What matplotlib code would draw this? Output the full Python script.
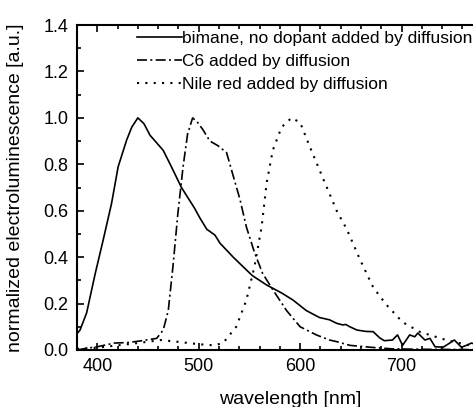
import matplotlib
matplotlib.use("Agg")
import matplotlib.pyplot as plt
from matplotlib.ticker import MultipleLocator

plt.rcParams['font.family'] = ['Liberation Sans', 'DejaVu Sans']

# values
bimane_wl = [380, 383, 389.5, 398, 405.6, 414, 420.6, 429, 434, 440, 446, 452, 459, 465,
             473, 483, 496, 501, 508, 516, 521, 534, 547, 553, 567, 582, 593, 606, 619,
             629, 636, 642, 645, 649, 656, 665, 672, 678.5, 683, 691, 696, 701, 708, 713,
             716, 723, 728, 733, 741, 747.5, 752, 759, 764, 769, 775, 780]
bimane_el = [0.07, 0.086, 0.16, 0.33, 0.47, 0.63, 0.79, 0.905, 0.96, 1.0, 0.975, 0.925,
             0.89, 0.86, 0.79, 0.70, 0.61, 0.57, 0.52, 0.495, 0.46, 0.40, 0.345, 0.32,
             0.28, 0.245, 0.215, 0.17, 0.14, 0.13, 0.115, 0.108, 0.11, 0.10, 0.086, 0.08,
             0.079, 0.052, 0.04, 0.043, 0.065, 0.02, 0.065, 0.057, 0.073, 0.043, 0.05,
             0.014, 0.012, 0.03, 0.043, 0.012, 0.02, 0.03, 0.02, 0.03]

c6_wl = [380, 390, 400, 417, 430, 444, 458.5, 465, 470, 474.6, 479.5, 484.6, 489, 494,
         499, 504, 511, 519, 527.5, 534, 540.6, 547, 555, 563, 573, 586.6, 600, 616, 629,
         636, 649, 669, 690, 720, 760, 800]
c6_el = [0.0, 0.008, 0.014, 0.03, 0.032, 0.04, 0.05, 0.086, 0.17, 0.36, 0.59, 0.79, 0.93,
         1.0, 0.98, 0.95, 0.90, 0.88, 0.85, 0.75, 0.65, 0.53, 0.42, 0.33, 0.26, 0.17,
         0.10, 0.065, 0.043, 0.036, 0.02, 0.012, 0.005, 0.003, 0.002, 0.0]

nile_wl = [380, 400, 420, 440, 463, 480, 500, 515, 524, 537, 547, 555, 562, 567, 573,
           581.7, 591.5, 600, 609.6, 622, 636, 646, 659, 672, 685, 701, 718, 744, 767, 800]
nile_el = [0.005, 0.01, 0.02, 0.03, 0.043, 0.035, 0.025, 0.02, 0.03, 0.10, 0.215, 0.36,
           0.53, 0.72, 0.86, 0.96, 1.0, 0.98, 0.875, 0.745, 0.60, 0.52, 0.39, 0.27, 0.195,
           0.12, 0.078, 0.043, 0.02, 0.005]

labels = ['bimane, no dopant added by diffusion',
          'C6 added by diffusion',
          'Nile red added by diffusion']
xticks = [400, 500, 600, 700]

fig = plt.figure(figsize=(4.73, 4.07), dpi=100)
# axes run past the right edge, the original figure is cropped there
ax = fig.add_axes([77 / 473, 57 / 407, 426 / 473, 325 / 407])

ax.plot(bimane_wl, bimane_el, color='black', lw=1.2, label=labels[0])
ax.plot(c6_wl, c6_el, color='black', lw=1.2, linestyle=(0, (6, 2, 1.2, 2)), label=labels[1])
ax.plot(nile_wl, nile_el, color='black', lw=1.5, linestyle=(0, (1, 3)), label=labels[2])

ax.set_xlim(380, 800)
ax.set_ylim(0, 1.4)
ax.set_xticks(xticks)
ax.xaxis.set_minor_locator(MultipleLocator(20))
ax.yaxis.set_major_locator(MultipleLocator(0.2))
ax.yaxis.set_minor_locator(MultipleLocator(0.1))
ax.yaxis.set_major_formatter(plt.FormatStrFormatter('%.1f'))
ax.tick_params(which='both', direction='in', top=True, right=False, labelsize=13, width=1.2)
ax.tick_params(which='major', length=5)
ax.tick_params(which='minor', length=3)
ax.tick_params(axis='y', pad=6)
ax.tick_params(axis='x', pad=6)
for s in ax.spines.values():
    s.set_linewidth(1.5)

ax.set_xlabel('wavelength [nm]', fontsize=14, labelpad=11)
ax.set_ylabel('normalized electroluminescence [a.u.]', fontsize=14, labelpad=14)

ax.legend(loc='upper left', bbox_to_anchor=(137 / 473, 1 - 31 / 407),
          bbox_transform=fig.transFigure, frameon=False, fontsize=12.5,
          handlelength=2.6, handletextpad=0.0, borderpad=0, borderaxespad=0,
          labelspacing=0.45)

fig.savefig('out.png', dpi=100)
